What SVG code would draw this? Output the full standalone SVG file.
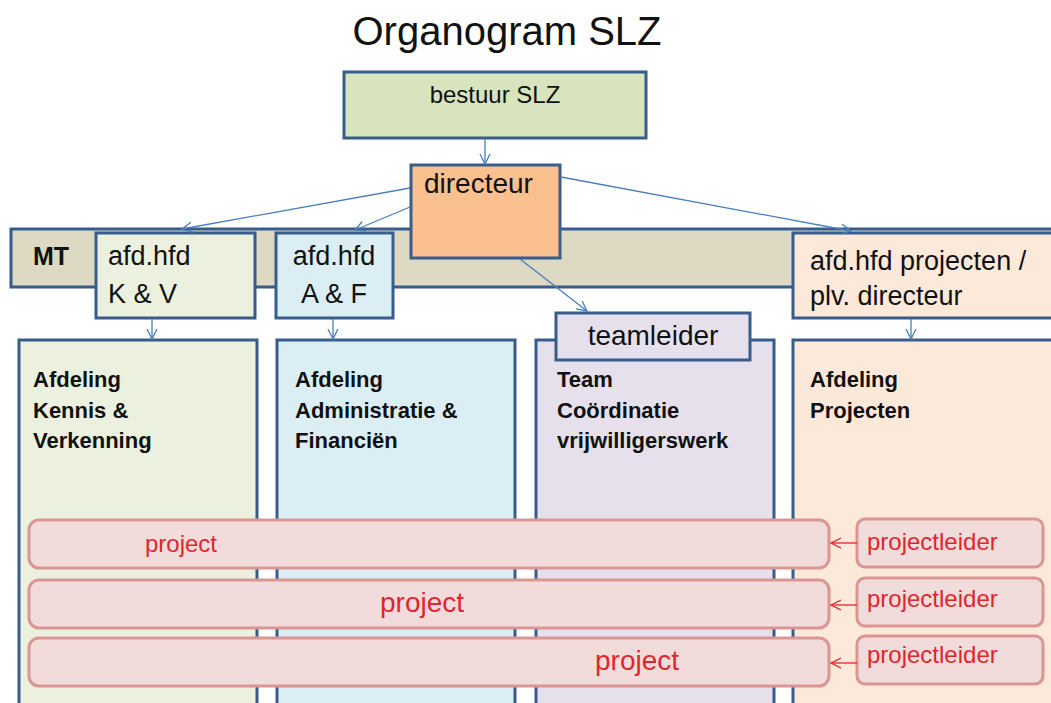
<svg xmlns="http://www.w3.org/2000/svg" width="1051" height="703" viewBox="0 0 1051 703">
<defs>
<marker id="ab" markerUnits="userSpaceOnUse" markerWidth="12" markerHeight="12" refX="10" refY="5" orient="auto" viewBox="0 0 12 10">
<path d="M0,0 L10,5 L0,10" fill="none" stroke="#4a7ebb" stroke-width="1.3"/>
</marker>
<marker id="ar" markerUnits="userSpaceOnUse" markerWidth="12" markerHeight="12" refX="10" refY="5" orient="auto" viewBox="0 0 12 10">
<path d="M0,0 L10,5 L0,10" fill="none" stroke="#e0262d" stroke-width="1.3"/>
</marker>
</defs>
<style>
.box{stroke:#385d8a;stroke-width:3}
.t{font-family:"Liberation Sans",Arial,sans-serif;fill:#111}
.b{font-family:"Liberation Sans",Arial,sans-serif;font-weight:bold;fill:#111;font-size:22px}
.bar{fill:#f2dcdb;stroke:#d99694;stroke-width:3}
.r{font-family:"Liberation Sans",Arial,sans-serif;fill:#e0262d}
.cb{fill:none;stroke:#4a7ebb;stroke-width:1.3;marker-end:url(#ab)}
.cr{fill:none;stroke:#e0262d;stroke-width:1.3;marker-end:url(#ar)}
</style>
<rect width="1051" height="703" fill="#ffffff"/>
<text class="t" x="507" y="45" font-size="40" text-anchor="middle">Organogram SLZ</text>

<g id="bestuur">
<rect class="box" x="344" y="72" width="302" height="66" fill="#d7e4bd"/>
<text class="t" x="495" y="103" font-size="24" text-anchor="middle">bestuur SLZ</text>
</g>

<g id="mt">
<rect class="box" x="11" y="229" width="1050" height="58" fill="#ddd9c3"/>
<text class="b" x="33" y="265" font-size="25" style="font-size:25px">MT</text>
</g>

<g id="afd-kv">
<rect class="box" x="19" y="340" width="238" height="380" fill="#ebf1de"/>
<text class="b" x="33" y="387">Afdeling</text>
<text class="b" x="33" y="418">Kennis &amp;</text>
<text class="b" x="33" y="448">Verkenning</text>
</g>
<g id="afd-af">
<rect class="box" x="277" y="340" width="238" height="380" fill="#dbeef4"/>
<text class="b" x="295" y="387">Afdeling</text>
<text class="b" x="295" y="418">Administratie &amp;</text>
<text class="b" x="295" y="448">Financiën</text>
</g>
<g id="team">
<rect class="box" x="536" y="340" width="238" height="380" fill="#e5e0ec"/>
<text class="b" x="557" y="387">Team</text>
<text class="b" x="557" y="418">Coördinatie</text>
<text class="b" x="557" y="448">vrijwilligerswerk</text>
</g>
<g id="afd-proj">
<rect class="box" x="793" y="340" width="270" height="380" fill="#fde9d9"/>
<text class="b" x="810" y="387">Afdeling</text>
<text class="b" x="810" y="418">Projecten</text>
</g>

<g id="hfd-kv">
<rect class="box" x="96" y="233" width="159" height="85" fill="#ebf1de"/>
<text class="t" x="108" y="265" font-size="27">afd.hfd</text>
<text class="t" x="108" y="303" font-size="27">K &amp; V</text>
</g>
<g id="hfd-af">
<rect class="box" x="276" y="233" width="117" height="85" fill="#dbeef4"/>
<text class="t" x="334" y="265" font-size="27" text-anchor="middle">afd.hfd</text>
<text class="t" x="334" y="303" font-size="27" text-anchor="middle">A &amp; F</text>
</g>
<g id="hfd-proj">
<rect class="box" x="793" y="233" width="270" height="85" fill="#fde9d9"/>
<text class="t" x="810" y="270" font-size="27">afd.hfd projecten /</text>
<text class="t" x="810" y="305" font-size="27">plv. directeur</text>
</g>

<g id="directeur">
<rect class="box" x="411" y="165" width="149" height="93" fill="#fac090"/>
<text class="t" x="424" y="193" font-size="28">directeur</text>
</g>

<g id="teamleider">
<rect class="box" x="556" y="313" width="194" height="47" fill="#e5e0ec"/>
<text class="t" x="653" y="345" font-size="28" text-anchor="middle">teamleider</text>
</g>

<g id="project1">
<rect class="bar" x="29" y="520" width="800" height="48" rx="10"/>
<text class="r" x="145" y="552" font-size="24">project</text>
</g>
<g id="project2">
<rect class="bar" x="29" y="580" width="800" height="48" rx="10"/>
<text class="r" x="380" y="612" font-size="28">project</text>
</g>
<g id="project3">
<rect class="bar" x="29" y="638" width="800" height="48" rx="10"/>
<text class="r" x="595" y="670" font-size="28">project</text>
</g>

<g id="projectleider1">
<rect class="bar" x="857" y="519" width="186" height="48" rx="8"/>
<text class="r" x="867" y="550" font-size="24">projectleider</text>
</g>
<g id="projectleider2">
<rect class="bar" x="857" y="578" width="186" height="48" rx="8"/>
<text class="r" x="867" y="607" font-size="24">projectleider</text>
</g>
<g id="projectleider3">
<rect class="bar" x="857" y="636" width="186" height="48" rx="8"/>
<text class="r" x="867" y="663" font-size="24">projectleider</text>
</g>

<g id="connectors">
<line class="cb" x1="485" y1="139" x2="485" y2="164"/>
<line class="cb" x1="410" y1="188" x2="182" y2="229"/>
<line class="cb" x1="410" y1="207" x2="355" y2="230"/>
<line class="cb" x1="561" y1="177" x2="851" y2="231"/>
<line class="cb" x1="520" y1="259" x2="587" y2="311"/>
<line class="cb" x1="152" y1="319" x2="152" y2="339"/>
<line class="cb" x1="333" y1="319" x2="333" y2="339"/>
<line class="cb" x1="911" y1="319" x2="911" y2="339"/>
<line class="cr" x1="857" y1="543" x2="831" y2="543"/>
<line class="cr" x1="857" y1="605" x2="831" y2="605"/>
<line class="cr" x1="857" y1="663" x2="831" y2="663"/>
</g>
</svg>
